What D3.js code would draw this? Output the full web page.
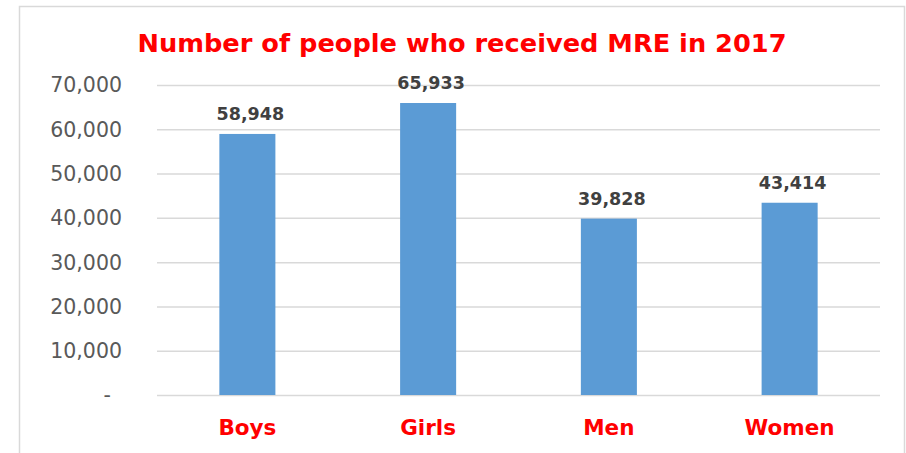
<!DOCTYPE html>
<html>
<head>
<meta charset="utf-8">
<script src="https://cdn.jsdelivr.net/npm/d3@7"></script>
<style>
  body { margin: 0; background: #fff; }
</style>
</head>
<body>
<svg id="chart"></svg>
<script>
// Data
const categories = ["Boys", "Girls", "Men", "Women"];
const values = [58948, 65933, 39828, 43414];
const yTicks = [0, 10000, 20000, 30000, 40000, 50000, 60000, 70000];
const title = "Number of people who received MRE in 2017";

const dimensions = {
    width: 906,
    height: 453,
    margin: { top: 85, bottom: 58, right: 26, left: 157 },
};

const svg = d3.select("#chart")
    .attr("width", dimensions.width)
    .attr("height", dimensions.height)
    .style("font-family", "'DejaVu Sans', sans-serif");

// Outer frame
svg.append("rect")
    .attr("x", 19.5)
    .attr("y", 6.5)
    .attr("width", 885)
    .attr("height", 460)
    .attr("fill", "none")
    .attr("stroke", "#d9d9d9")
    .attr("stroke-width", 1.5);

const xScale = d3.scaleBand()
    .domain(categories)
    .range([dimensions.margin.left, dimensions.width - dimensions.margin.right])
    .paddingInner(0.69)
    .paddingOuter(0.345);

const yScale = d3.scaleLinear()
    .domain([0, 70000])
    .range([dimensions.height - dimensions.margin.bottom, dimensions.margin.top]);

// Gridlines
svg.append("g")
    .attr("transform", `translate(${dimensions.margin.left},0)`)
    .call(d3.axisLeft(yScale)
        .tickValues(yTicks)
        .tickSize(-(dimensions.width - dimensions.margin.left - dimensions.margin.right))
        .tickFormat(""))
    .call(g => g.select(".domain").remove())
    .call(g => g.selectAll("line")
        .attr("stroke", "#d9d9d9")
        .attr("stroke-width", 1.5));

// Y tick labels (zero shown as accounting dash)
svg.append("g")
    .selectAll("text")
    .data(yTicks)
    .enter()
    .append("text")
    .attr("x", d => d === 0 ? 111 : 122)
    .attr("y", d => yScale(d))
    .attr("dy", "0.36em")
    .attr("text-anchor", "end")
    .attr("fill", "#595959")
    .style("font-size", "20.5px")
    .text(d => d === 0 ? "-" : d3.format(",")(d));

// Bars
svg.append("g")
    .selectAll("rect")
    .data(values)
    .enter()
    .append("rect")
    .attr("x", (d, i) => xScale(categories[i]))
    .attr("y", d => yScale(d))
    .attr("width", xScale.bandwidth())
    .attr("height", d => yScale(0) - yScale(d))
    .attr("fill", "#5b9bd5");

// Value labels
svg.append("g")
    .selectAll("text")
    .data(values)
    .enter()
    .append("text")
    .attr("x", (d, i) => xScale(categories[i]) + xScale.bandwidth() / 2 + 3)
    .attr("y", d => yScale(d) - 14)
    .attr("text-anchor", "middle")
    .attr("fill", "#404040")
    .style("font-size", "17.5px")
    .style("font-weight", "bold")
    .text(d => d3.format(",")(d));

// Category labels
svg.append("g")
    .selectAll("text")
    .data(categories)
    .enter()
    .append("text")
    .attr("x", d => xScale(d) + xScale.bandwidth() / 2)
    .attr("y", 435)
    .attr("text-anchor", "middle")
    .attr("fill", "#ff0000")
    .style("font-size", "21.5px")
    .style("font-weight", "bold")
    .text(d => d);

// Title
svg.append("text")
    .attr("x", 462)
    .attr("y", 52)
    .attr("text-anchor", "middle")
    .attr("fill", "#ff0000")
    .attr("textLength", 649)
    .attr("lengthAdjust", "spacingAndGlyphs")
    .style("font-size", "25px")
    .style("font-weight", "bold")
    .text(title);
</script>
</body>
</html>
